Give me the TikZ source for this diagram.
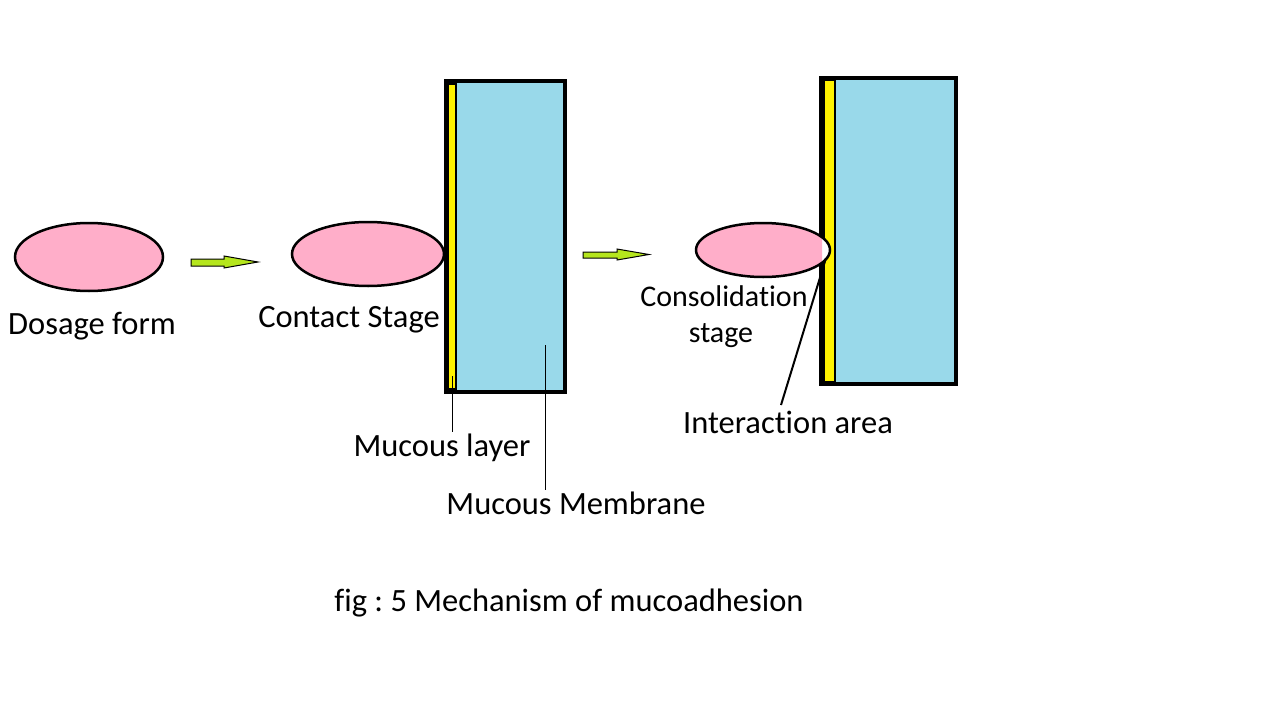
\documentclass[tikz,border=0pt]{standalone}
\usepackage{fontspec}
\setmainfont{Carlito}[Ligatures=CommonOff]
\frenchspacing
\usetikzlibrary{shapes.geometric}
\definecolor{pinkfill}{HTML}{FFAEC9}
\definecolor{bluefill}{HTML}{99D9EA}
\definecolor{yellowfill}{HTML}{FFF200}
\definecolor{arrowgreen}{HTML}{B5E61D}
\begin{document}
\begin{tikzpicture}[x=1pt,y=-1pt,
  blob/.style={ellipse,draw=black,line width=2.5pt,fill=pinkfill,inner sep=0pt},
  membrane/.style={draw=black,line width=3.5pt,fill=bluefill},
  mucus/.style={draw=black,line width=1.5pt,fill=yellowfill},
  greenarrow/.style={draw=black,line width=1pt,fill=arrowgreen},
  lbl/.style={font=\fontsize{32.5}{38}\selectfont,anchor=base,inner sep=0pt},
  smalllbl/.style={lbl,font=\fontsize{30}{35}\selectfont},
  leader/.style={draw=black,line width=1pt}]
\useasboundingbox (0,0) rectangle (1281,706);
% stage 1
\node[blob,minimum width=148pt,minimum height=68pt] (e1) at (89,257) {};
\node[lbl] (t1) at (92,334) {Dosage form};
\draw[greenarrow] (191,259) -- (224,259) -- (224,256) -- (258,262) -- (224,268) -- (224,266) -- (191,266) -- cycle;
% stage 2
\node[membrane,minimum width=119pt,minimum height=311pt,inner sep=0pt] (m1) at (505.5,236.5) {};
\node[mucus,minimum width=8pt,minimum height=305pt,inner sep=0pt] (y1) at (452,236.5) {};
\node[blob,minimum width=152pt,minimum height=64pt] (e2) at (368,254) {};
\node[lbl] (t2) at (349,327) {Contact Stage};
\coordinate (ml1) at (452,376);
\coordinate (ml2) at (452,432);
\draw[leader] (ml1) -- (ml2);
\node[lbl] (t3) at (442,456) {Mucous layer};
\coordinate (mm1) at (545,345);
\coordinate (mm2) at (545,490);
\draw[leader] (mm1) -- (mm2);
\node[lbl] (t4) at (576,514) {Mucous Membrane};
\draw[greenarrow] (583,252) -- (617,252) -- (617,249) -- (649,254.5) -- (617,260) -- (617,258) -- (583,258) -- cycle;
% stage 3
\node[membrane,minimum width=135pt,minimum height=306pt,inner sep=0pt] (m2) at (888.5,231) {};
\node[mucus,minimum width=11pt,minimum height=302pt,inner sep=0pt] (y2) at (829.5,231) {};
\fill[white] (763,250) ellipse [x radius=67, y radius=27];
\begin{scope}
\clip (600,200) rectangle (822,300);
\fill[pinkfill] (763,250) ellipse [x radius=67, y radius=27];
\end{scope}
\node[ellipse,draw=black,line width=2.5pt,minimum width=134pt,minimum height=54pt,inner sep=0pt] (e3) at (763,250) {};
\node[smalllbl] (t5) at (724,306) {Consolidation};
\node[smalllbl] (t6) at (721,342) {stage};
\coordinate (ia1) at (826,258);
\coordinate (ia2) at (781,405);
\draw[black,line width=2pt] (ia1) -- (ia2);
\node[lbl] (t7) at (788,433) {Interaction area};
% caption
\node[lbl] (cap) at (569,611) {fig : 5 Mechanism of mucoadhesion};
\end{tikzpicture}
\end{document}
